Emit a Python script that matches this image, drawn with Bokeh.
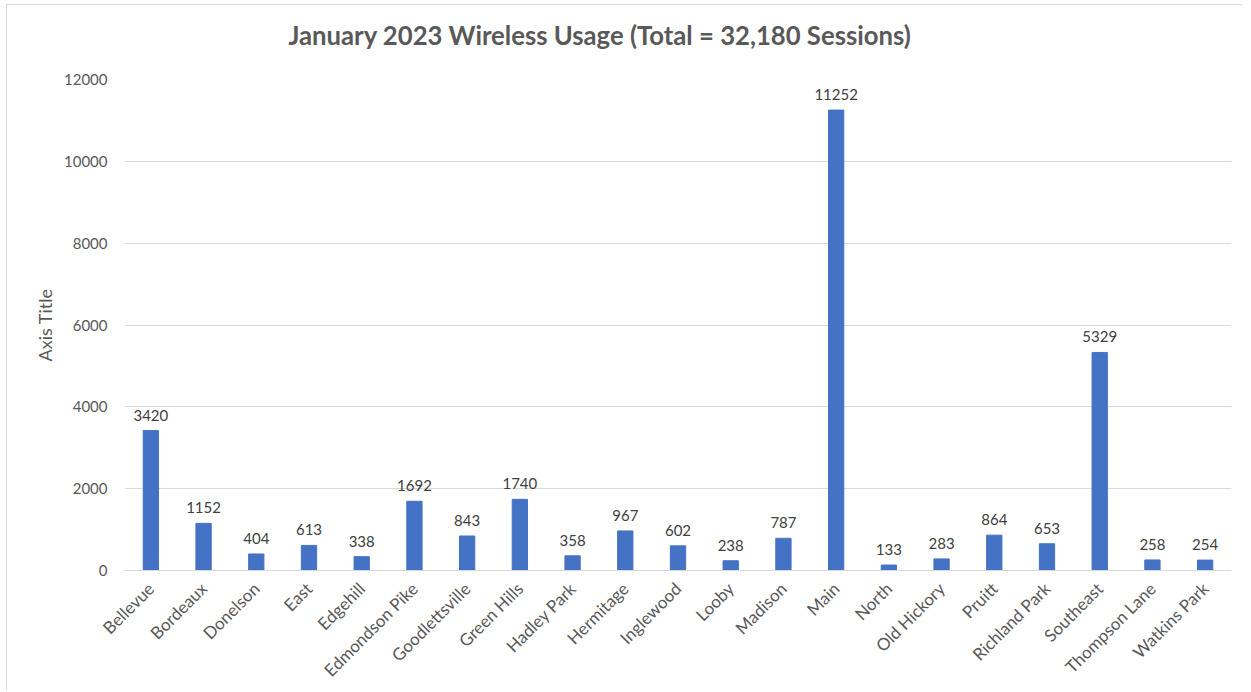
from bokeh.plotting import figure
from bokeh.models import ColumnDataSource, FactorRange, Range1d, FixedTicker, Title
from bokeh.core.properties import value
from bokeh.embed import file_html
from bokeh.resources import INLINE
import math

categories = ["Bellevue", "Bordeaux", "Donelson", "East", "Edgehill", "Edmondson Pike",
              "Goodlettsville", "Green Hills", "Hadley Park", "Hermitage", "Inglewood",
              "Looby", "Madison", "Main", "North", "Old Hickory", "Pruitt", "Richland Park",
              "Southeast", "Thompson Lane", "Watkins Park"]
sessions = [3420, 1152, 404, 613, 338, 1692, 843, 1740, 358, 967, 602, 238, 787,
            11252, 133, 283, 864, 653, 5329, 258, 254]
y_ticks = [0, 2000, 4000, 6000, 8000, 10000, 12000]
title_text = "January 2023 Wireless Usage (Total = 32,180 Sessions)"
y_axis_title = "Axis Title"

FONT = "Lato"
src = ColumnDataSource(dict(cat=categories, val=sessions, lab=[str(v) for v in sessions]))

p = figure(width=1236, height=686, x_range=FactorRange(*categories, range_padding=0),
           y_range=Range1d(0, 12000), output_backend="svg", toolbar_location=None,
           min_border_left=117, min_border_right=12, min_border_top=74, min_border_bottom=121)
p.styles = {"border-left": "1px solid #d9d9d9", "border-top": "1px solid #d9d9d9",
            "margin-left": "6px", "margin-top": "4px"}

p.vbar(x="cat", top="val", width=0.29, source=src, fill_color="#4472C4",
       line_color="#4472C4")
p.text(x="cat", y="val", text="lab", source=src, text_align="center",
       text_baseline="bottom", y_offset=-10, text_font=value(FONT),
       text_font_size="15px", text_color="#404040")

# spacer between frame and title, then the title itself (further from the frame)
p.add_layout(Title(text=" ", text_font_size="16.5px", standoff=0), "above")
p.add_layout(Title(text=title_text, align="left", offset=164, standoff=20,
                   text_font=FONT, text_font_size="25.7px", text_font_style="bold",
                   text_color="#595959"), "above")

p.outline_line_color = None
p.xgrid.grid_line_color = None
p.ygrid.grid_line_color = "#D9D9D9"
p.ygrid.grid_line_width = 1

p.yaxis.ticker = FixedTicker(ticks=y_ticks)
p.yaxis.axis_line_color = None
p.yaxis.major_tick_line_color = None
p.yaxis.major_tick_out = 0
p.yaxis.minor_tick_line_color = None
p.yaxis.major_label_text_font = FONT
p.yaxis.major_label_text_font_size = "15px"
p.yaxis.major_label_text_color = "#595959"
p.yaxis.major_label_standoff = 17
p.yaxis.axis_label = y_axis_title
p.yaxis.axis_label_text_font = FONT
p.yaxis.axis_label_text_font_size = "18px"
p.yaxis.axis_label_text_font_style = "normal"
p.yaxis.axis_label_text_color = "#595959"
p.yaxis.axis_label_standoff = 5

p.xaxis.axis_line_color = "#D9D9D9"
p.xaxis.major_tick_line_color = None
p.xaxis.major_tick_out = 0
p.xaxis.minor_tick_line_color = None
p.xaxis.major_label_orientation = math.pi / 4
p.xaxis.major_label_text_font = FONT
p.xaxis.major_label_text_font_size = "17px"
p.xaxis.major_label_text_color = "#595959"
p.xaxis.major_label_standoff = 15

open("out.html", "w").write(file_html(p, INLINE))
